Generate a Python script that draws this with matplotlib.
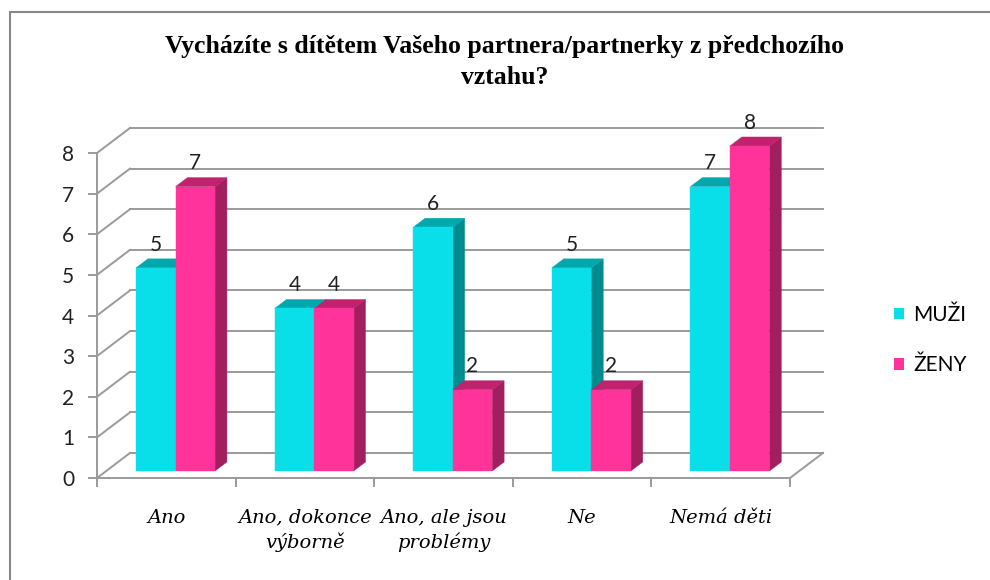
import numpy as np
import matplotlib.pyplot as plt
from matplotlib.patches import Polygon, Patch, Rectangle

plt.rcParams['font.family'] = ['Lato', 'DejaVu Sans']

categories = ['Ano', 'Ano, dokonce\nvýborně', 'Ano, ale jsou\nproblémy', 'Ne', 'Nemá děti']
muzi = [5, 4, 6, 5, 7]
zeny = [7, 4, 2, 2, 8]
series_names = ['MUŽI', 'ŽENY']
yticks = list(range(0, 9))
title = 'Vycházíte s dítětem Vašeho partnera/partnerky z předchozího\nvztahu?'

# front / top / side colours of the 3d bars
colors = {'MUŽI': ('#08DFE8', '#00A8AE', '#008B90'),
          'ŽENY': ('#FF3399', '#C0226E', '#A21F5E')}
grid_c = '#9A9A9A'

# oblique depth in data units (full floor depth), bar depth range, bar width
DX, DY = 0.238, 0.616
Z0, Z1 = 0.28, 0.64
BW = 0.285


def proj(x, v, z):
    return (x + DX * z, v + DY * z)


fig = plt.figure(figsize=(9.9, 5.8), dpi=100)
ax = fig.add_axes([97 / 990, 1 - 478 / 580, 693 / 990, 325 / 580])
ax.set_xlim(0, len(categories))
ax.set_ylim(0, 8)

# walls: back gridlines + left wall diagonals
for v in yticks:
    ax.plot([DX, len(categories) + DX], [v + DY, v + DY], color=grid_c, lw=1.4, clip_on=False, zorder=1)
    ax.plot([0, DX], [v, v + DY], color=grid_c, lw=1.4, clip_on=False, zorder=1)
# floor right edge
ax.plot([len(categories), len(categories) + DX], [0, DY], color=grid_c, lw=1.4, clip_on=False, zorder=1)

for sp in ['top', 'right']:
    ax.spines[sp].set_visible(False)
for sp in ['left', 'bottom']:
    ax.spines[sp].set_color(grid_c)
    ax.spines[sp].set_linewidth(1.4)

# bars
for k, (name, vals) in enumerate(zip(series_names, [muzi, zeny])):
    front_c, top_c, side_c = colors[name]
    for i, v in enumerate(vals):
        x0 = i + 0.5 - BW + k * BW
        x1 = x0 + BW
        front = [proj(x0, 0, Z0), proj(x1, 0, Z0), proj(x1, v, Z0), proj(x0, v, Z0)]
        top = [proj(x0, v, Z0), proj(x1, v, Z0), proj(x1, v, Z1), proj(x0, v, Z1)]
        side = [proj(x1, 0, Z0), proj(x1, 0, Z1), proj(x1, v, Z1), proj(x1, v, Z0)]
        for poly, c in [(side, side_c), (top, top_c), (front, front_c)]:
            ax.add_patch(Polygon(poly, closed=True, fc=c, ec=c, lw=0.3, clip_on=False, zorder=3 + k))
        lx, ly = proj((x0 + x1) / 2, v, Z0)
        ax.annotate(str(v), (lx, v + DY * Z1), xytext=(0, 6), textcoords='offset points',
                    ha='center', va='baseline', fontsize=15, color='#222222',
                    annotation_clip=False, zorder=6)

ax.set_yticks(yticks)
ax.tick_params(axis='y', length=6.5, width=1.4, color=grid_c, pad=10, labelsize=15, labelcolor='#222222')
ax.set_xticks(np.arange(len(categories) + 1))
ax.set_xticks(np.arange(len(categories)) + 0.5, minor=True)
ax.set_xticklabels([])
ax.set_xticklabels(categories, minor=True, fontfamily='DejaVu Serif', style='italic', fontsize=14,
                   linespacing=1.4)
ax.tick_params(axis='x', which='major', length=6.5, width=1.4, color=grid_c)
ax.tick_params(axis='x', which='minor', length=0, pad=22)

fig.text(505 / 990, 1 - 62 / 580, title, ha='center', va='center', fontfamily='Liberation Serif',
         fontweight='bold', fontsize=18.5, linespacing=1.4)

handles = [Patch(fc=colors[n][0], ec='none', label=n) for n in series_names]
fig.legend(handles=handles, loc='center left', bbox_to_anchor=(875 / 990, 1 - 340 / 580), frameon=False,
           fontsize=15, handlelength=0.5, handleheight=0.5, handletextpad=0.45, labelspacing=1.45)

fig.add_artist(Rectangle((10 / 990, -0.05), 1.0, 1 - 12 / 580 + 0.05, transform=fig.transFigure,
                         fill=False, ec='#888888', lw=1.5))

fig.savefig('out.png', dpi=100)
